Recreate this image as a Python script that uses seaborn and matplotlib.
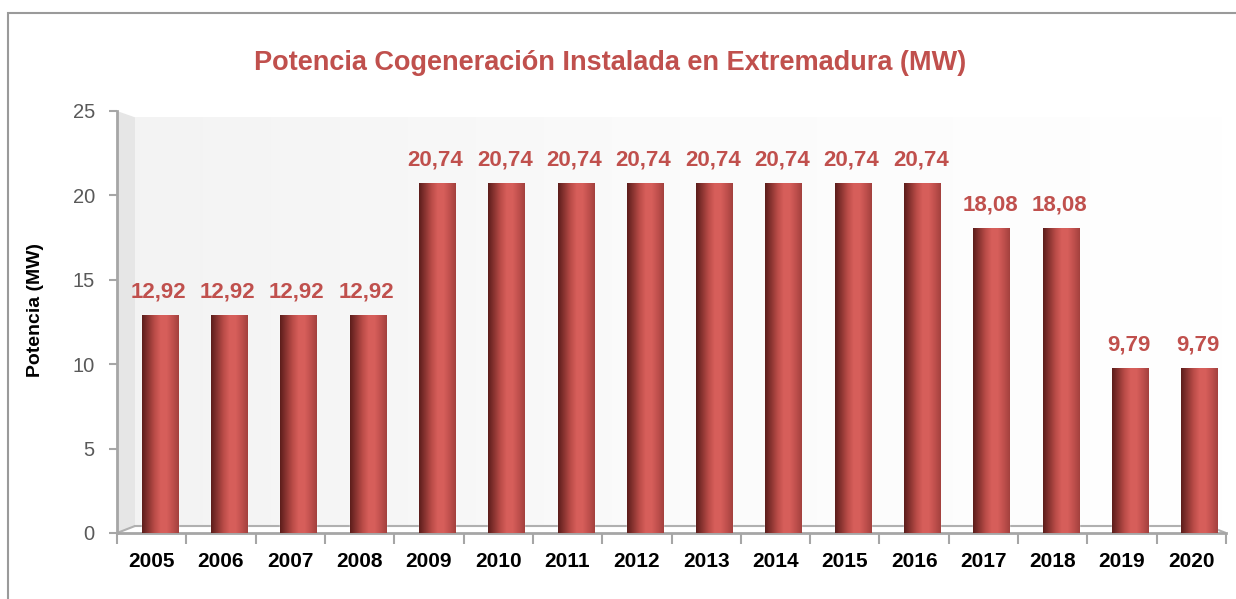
import numpy as np
import pandas as pd
import seaborn as sns
import matplotlib.pyplot as plt
from matplotlib.colors import LinearSegmentedColormap
from matplotlib.patches import Polygon, Rectangle
from matplotlib.lines import Line2D

# datos: potencia de cogeneración instalada (MW)
years = ["2005", "2006", "2007", "2008", "2009", "2010", "2011", "2012",
         "2013", "2014", "2015", "2016", "2017", "2018", "2019", "2020"]
potencia = [12.92, 12.92, 12.92, 12.92, 20.74, 20.74, 20.74, 20.74,
            20.74, 20.74, 20.74, 20.74, 18.08, 18.08, 9.79, 9.79]

titulo = "Potencia Cogeneración Instalada en Extremadura (MW)"
ylabel = "Potencia (MW)"

rojo = "#c0504d"

sns.set_theme(style="white")
plt.rcParams["font.family"] = ["Liberation Sans", "DejaVu Sans"]

df = pd.DataFrame({"year": years, "potencia": potencia})

fig = plt.figure(figsize=(12.36, 5.99), dpi=100)
ax = fig.add_axes([117 / 1236, 1 - 533 / 599, 1109 / 1236, 422 / 599])

# marco de la figura (solo se ve arriba y a la izquierda)
fig.patches.append(Rectangle((8 / 1236, -0.1), 1.2, 1 - 13 / 599 + 0.1,
                             transform=fig.transFigure, fill=False,
                             edgecolor="#9a9a9a", linewidth=1.5))

# pared del fondo y lateral (efecto 3D de Excel)
dx, dy = 18 / 1109, 7 / 422
wall = np.linspace(0, 1, 256).reshape(1, -1)
wall_cmap = LinearSegmentedColormap.from_list("wall", ["#f3f3f3", "#fbfbfb", "#ffffff"])
im = ax.imshow(wall, extent=(dx, 1, dy, 1 - dy / 2), transform=ax.transAxes,
               cmap=wall_cmap, aspect="auto", zorder=0)
back = Polygon([(dx, dy), (dx, 0.985), (1, 0.985), (1, dy)], closed=True,
               transform=ax.transAxes, facecolor="none", edgecolor="none")
ax.add_patch(back)
im.set_clip_path(back)
ax.add_patch(Polygon([(0, 0), (0, 1), (dx, 0.985), (dx, dy)], closed=True,
                     transform=ax.transAxes, facecolor="#e6e6e6",
                     edgecolor="none", zorder=0.5))
floor_kw = dict(transform=ax.transAxes, color="#b0b0b0", linewidth=1.5, zorder=1)
ax.add_line(Line2D([0, dx], [0, dy], **floor_kw))
ax.add_line(Line2D([dx, 1 - dx], [dy, dy], **floor_kw))
ax.add_line(Line2D([1 - dx, 1], [dy, 0], **floor_kw))

sns.barplot(data=df, x="year", y="potencia", color=rojo, width=0.52,
            saturation=1, ax=ax, zorder=2)

# sombreado cilíndrico de las barras
bar_cmap = LinearSegmentedColormap.from_list(
    "cyl", ["#5c1d1b", "#8a3431", "#b94b47", "#d65e5a", "#d75f5b", "#c0504d", "#a3413e"])
grad = np.linspace(0, 1, 128).reshape(1, -1)
shift = 8 / (1109 / 16)
for p, v in zip(ax.containers[0], potencia):
    p.set_x(p.get_x() + shift)
    x0, w = p.get_x(), p.get_width()
    g = ax.imshow(grad, extent=(x0, x0 + w, 0, v), cmap=bar_cmap,
                  aspect="auto", zorder=3)
    g.set_clip_path(p)
    ax.text(x0 + w / 2 - 0.02, v + 0.75, f"{v:.2f}".replace(".", ","),
            ha="center", va="bottom", color=rojo, fontsize=16,
            fontweight="bold", zorder=4)

ax.set_xlim(-0.5, len(years) - 0.5)
ax.set_ylim(0, 25)
ax.set_yticks([0, 5, 10, 15, 20, 25])
ax.set_xlabel("")
ax.set_ylabel(ylabel, fontsize=14, fontweight="bold", color="black")
ax.yaxis.set_label_coords(-73 / 1109, 0.528)

for s in ["top", "right"]:
    ax.spines[s].set_visible(False)
for s in ["left", "bottom"]:
    ax.spines[s].set_color("#a6a6a6")
    ax.spines[s].set_linewidth(2)

ax.set_xticks(np.arange(-0.5, len(years), 1.0), minor=True)
ax.tick_params(axis="x", which="major", length=0, pad=14,
               labelsize=15, labelcolor="black")
ax.tick_params(axis="x", which="minor", length=8, width=1.5,
               color="#a6a6a6", direction="out", bottom=True)
ax.tick_params(axis="y", length=6, width=1.5, color="#a6a6a6", left=True,
               direction="out", labelsize=14.5, labelcolor="#595959", pad=10)
for t in ax.get_xticklabels():
    t.set_fontweight("bold")

fig.text(610 / 1236, 1 - 63 / 599, titulo, ha="center", va="center",
         color=rojo, fontsize=19.5, fontweight="bold")

fig.savefig("out.png", dpi=100, facecolor="white")
